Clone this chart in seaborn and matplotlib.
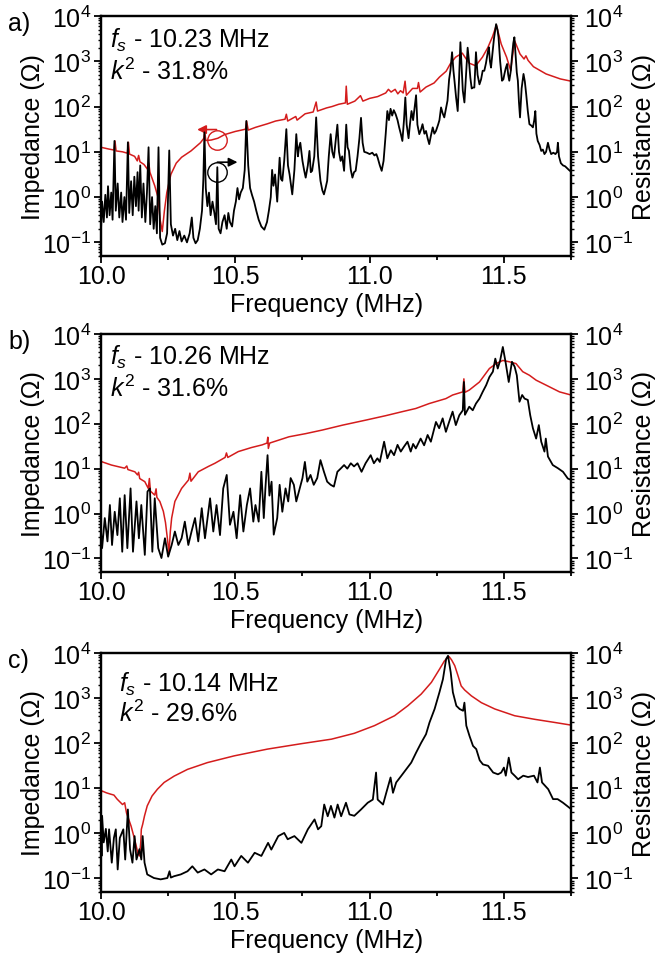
import numpy as np
import matplotlib
matplotlib.use("Agg")
import matplotlib.pyplot as plt
import seaborn as sns
from matplotlib.ticker import LogLocator, MultipleLocator, FormatStrFormatter, NullFormatter

# ---------------- data (magnitudes, as log10 of Ohm) ----------------
# Panel a
a_imp_f = [10.000,10.030,10.048,10.052,10.056,10.080,10.098,10.102,10.106,10.125,10.135,10.140,10.145,10.160,10.175,10.178,10.182,10.200,10.212,10.220,10.228,10.236,10.245,10.260,10.280,10.300,10.335,10.370,10.383,10.386,10.390,10.410,10.435,10.460,10.500,10.538,10.542,10.548,10.575,10.620,10.650,10.685,10.690,10.695,10.725,10.730,10.760,10.790,10.801,10.806,10.840,10.860,10.885,10.910,10.913,10.917,10.945,10.966,10.975,11.000,11.030,11.060,11.070,11.080,11.095,11.105,11.115,11.125,11.132,11.137,11.160,11.178,11.182,11.188,11.210,11.240,11.260,11.285,11.300,11.320,11.345,11.370,11.395,11.420,11.440,11.458,11.472,11.490,11.510,11.525,11.540,11.560,11.575,11.582,11.590,11.610,11.657,11.710,11.750]
a_imp_log = [1.10,1.06,1.04,1.24,1.02,1.00,0.97,1.21,0.95,0.90,0.80,0.92,0.78,0.72,0.60,0.75,0.55,0.25,0.00,-0.50,-0.76,-0.30,0.10,0.50,0.75,0.88,1.02,1.20,1.30,1.45,1.25,1.26,1.30,1.38,1.45,1.50,1.68,1.48,1.54,1.62,1.68,1.72,1.83,1.68,1.78,1.70,1.84,1.88,2.10,1.90,1.97,2.00,2.05,2.08,2.45,2.05,2.12,2.24,2.12,2.18,2.22,2.30,2.38,2.32,2.38,2.28,2.35,2.30,2.56,2.25,2.40,2.40,2.53,2.32,2.43,2.52,2.65,2.78,2.94,3.09,3.18,2.96,2.90,3.09,3.30,3.55,3.80,3.38,3.09,2.80,3.45,3.16,3.05,3.12,3.02,2.88,2.72,2.61,2.56]

a_res_f = [10.000,10.004,10.010,10.016,10.022,10.026,10.032,10.038,10.043,10.050,10.055,10.062,10.068,10.075,10.080,10.087,10.093,10.100,10.105,10.112,10.118,10.124,10.130,10.136,10.140,10.146,10.152,10.158,10.165,10.171,10.177,10.183,10.190,10.196,10.202,10.208,10.214,10.220,10.228,10.238,10.246,10.254,10.260,10.268,10.276,10.284,10.292,10.300,10.310,10.320,10.330,10.338,10.344,10.352,10.360,10.368,10.376,10.381,10.385,10.390,10.396,10.402,10.408,10.415,10.422,10.428,10.433,10.438,10.445,10.452,10.460,10.468,10.474,10.480,10.488,10.495,10.502,10.508,10.514,10.520,10.528,10.535,10.541,10.548,10.555,10.562,10.570,10.578,10.587,10.597,10.608,10.618,10.625,10.632,10.637,10.642,10.648,10.656,10.665,10.670,10.675,10.682,10.690,10.696,10.702,10.712,10.720,10.727,10.733,10.737,10.742,10.750,10.756,10.762,10.770,10.776,10.781,10.786,10.794,10.801,10.808,10.817,10.824,10.830,10.836,10.842,10.848,10.855,10.861,10.867,10.873,10.880,10.886,10.892,10.898,10.905,10.910,10.913,10.918,10.923,10.930,10.936,10.942,10.948,10.955,10.962,10.968,10.974,10.980,10.990,11.000,11.010,11.018,11.025,11.030,11.038,11.045,11.052,11.060,11.066,11.072,11.078,11.084,11.090,11.097,11.104,11.110,11.116,11.122,11.128,11.133,11.138,11.145,11.150,11.156,11.162,11.168,11.173,11.178,11.185,11.192,11.197,11.204,11.210,11.216,11.222,11.228,11.235,11.241,11.247,11.255,11.260,11.266,11.272,11.278,11.284,11.290,11.296,11.301,11.307,11.312,11.316,11.322,11.328,11.333,11.338,11.343,11.347,11.353,11.359,11.365,11.370,11.375,11.380,11.385,11.390,11.396,11.402,11.409,11.415,11.421,11.427,11.433,11.440,11.444,11.448,11.452,11.458,11.463,11.471,11.476,11.480,11.486,11.493,11.498,11.502,11.507,11.512,11.516,11.520,11.526,11.530,11.535,11.539,11.544,11.548,11.552,11.556,11.560,11.566,11.573,11.578,11.583,11.589,11.595,11.602,11.608,11.613,11.617,11.621,11.626,11.633,11.639,11.645,11.651,11.657,11.664,11.670,11.676,11.684,11.692,11.698,11.701,11.705,11.712,11.720,11.728,11.735,11.742,11.750]
a_res_log = [-0.70,-0.10,-0.55,0.05,-0.45,0.24,-0.40,0.10,-0.50,1.24,-0.30,0.30,-0.45,0.10,-0.55,0.00,-0.50,1.21,-0.35,0.35,-0.40,0.45,-0.20,0.55,-0.30,0.70,-0.45,0.30,-0.55,0.10,1.10,-0.60,0.00,-0.70,-0.20,-0.80,1.10,-0.90,-1.05,-1.02,-0.80,1.03,-0.60,-0.85,-0.70,-0.95,-0.75,-0.98,-0.85,-1.00,-0.80,-0.45,-0.90,-1.02,-0.95,-0.70,-0.30,0.40,1.43,0.20,-0.20,0.10,-0.40,-0.10,-0.35,-0.60,0.66,-0.70,-0.80,-0.55,-0.40,-0.70,-0.35,-0.55,-0.65,-0.30,-0.10,0.20,-0.05,0.10,0.20,0.60,1.68,0.70,0.20,0.05,-0.10,-0.30,-0.50,-0.65,-0.72,-0.55,-0.30,0.00,0.60,0.25,0.50,-0.10,0.87,0.40,0.36,0.80,1.50,0.70,0.50,0.06,0.60,1.39,0.90,1.09,1.20,0.80,0.60,0.43,0.70,1.02,0.55,0.58,0.90,1.76,0.90,0.36,0.15,0.06,0.20,0.36,0.90,1.39,1.00,0.87,1.20,1.60,1.00,0.80,0.90,0.58,1.20,1.60,1.10,1.02,0.60,0.43,0.55,0.58,0.90,1.30,1.75,1.20,1.00,0.98,0.95,0.98,0.92,0.95,0.87,0.70,0.58,0.80,1.40,1.90,1.70,1.95,1.80,1.92,1.83,1.70,1.54,1.40,1.24,1.70,2.20,1.60,1.30,1.60,1.90,1.70,2.00,2.25,1.60,1.39,1.50,1.61,1.40,1.46,1.30,1.17,1.35,1.54,1.40,1.46,1.60,1.70,1.98,1.85,1.76,1.95,2.13,2.60,2.80,3.20,2.80,2.57,2.20,1.90,2.60,3.42,2.80,2.35,2.09,2.70,3.30,3.00,2.64,2.40,2.42,2.42,3.20,2.70,2.49,2.60,2.79,2.79,2.95,3.20,3.31,3.00,2.86,3.20,3.50,3.82,3.70,3.53,3.00,2.57,2.60,2.72,2.85,2.94,2.70,2.57,2.80,3.10,3.40,3.53,3.10,2.75,2.57,2.10,1.76,2.40,2.72,2.55,2.27,1.90,1.61,1.58,1.54,1.70,1.90,1.40,1.24,1.15,1.02,1.05,0.95,1.00,1.20,1.05,0.95,0.98,0.95,1.00,1.20,0.90,0.75,0.70,0.68,0.64,0.60,0.56]

# Panel b
b_imp_f = [10.000,10.039,10.060,10.088,10.096,10.100,10.126,10.136,10.140,10.144,10.163,10.176,10.180,10.184,10.200,10.205,10.208,10.219,10.232,10.240,10.248,10.253,10.258,10.263,10.275,10.300,10.326,10.331,10.335,10.362,10.400,10.424,10.462,10.467,10.472,10.511,10.560,10.600,10.618,10.621,10.623,10.628,10.700,10.762,10.824,10.900,10.985,11.060,11.122,11.172,11.222,11.284,11.309,11.347,11.351,11.355,11.371,11.409,11.446,11.471,11.496,11.520,11.545,11.570,11.595,11.620,11.657,11.707,11.750]
b_imp_log = [1.16,1.08,1.05,1.01,1.06,0.98,0.93,0.86,0.92,0.78,0.71,0.56,0.78,0.50,0.41,0.55,0.36,0.27,0.05,-0.20,-0.60,-0.90,-0.40,-0.10,0.27,0.56,0.75,0.90,0.72,0.93,1.05,1.12,1.25,1.35,1.25,1.38,1.47,1.53,1.57,1.70,1.45,1.57,1.71,1.78,1.86,1.97,2.08,2.18,2.27,2.34,2.45,2.56,2.64,2.71,3.00,2.70,2.75,2.93,3.23,3.34,3.41,3.38,3.34,3.16,3.08,2.97,2.86,2.71,2.64]

b_res_f = [10.000,10.004,10.014,10.024,10.033,10.041,10.051,10.061,10.070,10.079,10.088,10.098,10.110,10.119,10.132,10.141,10.150,10.163,10.173,10.182,10.191,10.200,10.213,10.225,10.238,10.250,10.263,10.275,10.288,10.300,10.312,10.325,10.337,10.350,10.362,10.375,10.387,10.406,10.418,10.430,10.443,10.455,10.468,10.480,10.493,10.505,10.518,10.530,10.543,10.555,10.567,10.575,10.587,10.597,10.606,10.612,10.620,10.627,10.635,10.643,10.656,10.665,10.675,10.687,10.697,10.706,10.718,10.727,10.737,10.750,10.759,10.768,10.780,10.792,10.805,10.817,10.830,10.842,10.855,10.867,10.880,10.892,10.905,10.917,10.930,10.942,10.955,10.970,10.985,11.004,11.016,11.029,11.038,11.054,11.066,11.079,11.091,11.104,11.116,11.128,11.141,11.153,11.162,11.172,11.190,11.203,11.216,11.228,11.247,11.259,11.272,11.284,11.296,11.309,11.321,11.334,11.347,11.351,11.355,11.371,11.384,11.396,11.409,11.421,11.434,11.446,11.459,11.468,11.477,11.486,11.496,11.506,11.518,11.530,11.540,11.548,11.558,11.568,11.577,11.589,11.598,11.608,11.620,11.630,11.639,11.651,11.656,11.664,11.682,11.701,11.720,11.738,11.750]
b_res_log = [-0.40,-0.77,-0.10,-0.62,0.19,-0.70,0.04,-0.48,0.34,-0.85,0.41,-0.77,0.56,-0.85,0.27,-0.55,0.19,-0.92,0.49,0.56,-0.85,0.34,-0.77,-0.99,-0.55,-0.96,-0.70,-0.40,-0.70,-0.55,-0.18,-0.70,-0.40,-0.10,-0.62,0.12,-0.55,0.34,-0.40,0.19,-0.48,0.56,0.86,-0.25,0.04,-0.55,0.41,-0.40,0.19,0.56,-0.18,0.19,-0.18,0.93,-0.10,0.56,1.30,0.40,0.71,-0.47,-0.10,0.64,0.04,0.56,0.27,0.79,0.64,0.27,0.50,0.79,1.15,0.71,0.86,0.64,0.79,1.19,0.93,0.71,0.64,0.60,0.93,1.00,1.08,1.00,1.12,1.05,1.12,0.93,1.12,1.30,1.12,1.23,1.15,1.60,1.23,1.41,1.30,1.53,1.38,1.49,1.60,1.38,1.55,1.45,1.67,1.52,1.75,1.60,2.04,1.90,2.12,1.82,2.04,2.27,1.97,2.19,2.30,2.93,2.20,2.38,2.30,2.45,2.56,2.71,2.86,3.04,3.16,3.45,3.23,3.41,3.71,3.38,2.93,3.38,3.27,3.08,2.49,2.64,2.56,2.53,2.19,1.90,1.67,1.97,1.60,1.38,1.67,1.27,1.08,1.01,0.93,0.78,0.75]

# Panel c
c_imp_f = [10.000,10.004,10.020,10.036,10.048,10.060,10.080,10.088,10.095,10.112,10.125,10.137,10.143,10.148,10.150,10.155,10.162,10.172,10.190,10.210,10.235,10.272,10.322,10.396,10.496,10.620,10.746,10.858,10.943,11.018,11.093,11.142,11.192,11.230,11.260,11.279,11.296,11.305,11.317,11.329,11.341,11.354,11.379,11.416,11.466,11.540,11.615,11.690,11.752]
c_imp_log = [0.90,0.94,0.90,0.87,0.85,0.76,0.64,0.68,0.45,0.16,-0.13,-0.43,-0.50,-0.20,0.09,0.20,0.39,0.61,0.83,0.98,1.13,1.27,1.42,1.57,1.72,1.87,1.99,2.09,2.22,2.39,2.61,2.83,3.09,3.35,3.64,3.83,3.92,3.85,3.72,3.50,3.27,3.18,3.05,2.90,2.76,2.61,2.53,2.46,2.40]

c_res_f = [10.000,10.002,10.004,10.010,10.018,10.025,10.030,10.040,10.048,10.055,10.062,10.070,10.083,10.090,10.100,10.108,10.117,10.125,10.132,10.143,10.150,10.155,10.162,10.172,10.197,10.222,10.247,10.255,10.260,10.272,10.297,10.322,10.340,10.360,10.385,10.410,10.435,10.460,10.485,10.497,10.522,10.547,10.572,10.597,10.622,10.634,10.660,10.682,10.695,10.720,10.746,10.770,10.795,10.808,10.820,10.831,10.844,10.856,10.869,10.881,10.894,10.912,10.925,10.943,10.968,10.993,11.012,11.024,11.030,11.050,11.062,11.078,11.087,11.099,11.117,11.136,11.155,11.173,11.192,11.210,11.223,11.242,11.260,11.273,11.285,11.292,11.302,11.310,11.323,11.335,11.348,11.353,11.360,11.372,11.385,11.397,11.410,11.422,11.441,11.460,11.478,11.490,11.500,11.507,11.518,11.528,11.540,11.553,11.572,11.590,11.612,11.625,11.634,11.642,11.665,11.683,11.700,11.720,11.735,11.752]
c_res_log = [0.09,-0.50,0.39,-0.20,0.10,-0.40,0.09,-0.65,-0.10,0.09,-0.80,-0.10,0.09,-0.58,0.53,-0.35,-0.65,-0.06,-0.58,-0.35,-0.58,-0.06,-0.65,-0.91,-0.99,-1.02,-0.99,-0.84,-0.98,-0.95,-0.91,-0.84,-0.73,-0.87,-0.80,-0.91,-0.80,-0.84,-0.58,-0.73,-0.50,-0.65,-0.43,-0.50,-0.21,-0.36,-0.06,0.01,-0.13,-0.06,-0.21,0.09,0.31,0.09,0.16,0.64,0.38,0.61,0.35,0.64,0.38,0.68,0.42,0.39,0.53,0.68,0.75,1.35,0.75,0.64,0.90,1.24,0.90,1.13,1.27,1.42,1.57,1.79,2.01,2.20,2.46,2.76,3.13,3.42,3.87,3.94,3.57,3.13,2.83,2.76,2.72,2.90,2.39,2.16,1.94,1.87,1.62,1.53,1.50,1.35,1.31,1.35,1.46,1.28,1.68,1.35,1.28,1.20,1.28,1.25,1.28,1.13,1.46,1.13,0.98,0.76,0.76,0.68,0.61,0.53]

panel_labels = ["a)", "b)", "c)"]
fs_text = ["10.23 MHz", "10.26 MHz", "10.14 MHz"]
k2_text = ["31.8%", "31.6%", "29.6%"]
decades = [1e-1, 1e0, 1e1, 1e2, 1e3, 1e4]

# ---------------- style ----------------
sns.set_theme(style="ticks")
plt.rcParams["font.family"] = ["Liberation Sans", "DejaVu Sans"]
plt.rcParams.update({
    "mathtext.fontset": "custom",
    "mathtext.rm": "Liberation Sans",
    "mathtext.it": "Liberation Sans:italic",
    "mathtext.bf": "Liberation Sans:bold",
    "axes.unicode_minus": False,
    "axes.linewidth": 1.6,
    "axes.edgecolor": "black",
    "text.color": "black",
    "axes.labelcolor": "black",
    "xtick.color": "black",
    "ytick.color": "black",
})
RED = "#d41c1c"
FS = 18

fig = plt.figure(figsize=(6.56, 9.54), dpi=100)
boxes = [[0.154, 0.7306, 0.7165, 0.2516],
         [0.154, 0.3994, 0.7165, 0.2495],
         [0.154, 0.0639, 0.7165, 0.2505]]
panels = [(a_imp_f, a_imp_log, a_res_f, a_res_log),
          (b_imp_f, b_imp_log, b_res_f, b_res_log),
          (c_imp_f, c_imp_log, c_res_f, c_res_log)]
text_pos = [(0.019, 0.871, 0.7375), (0.019, 0.874, 0.739), (0.039, 0.841, 0.715)]

for i, (box, (fi, li, fr, lr)) in enumerate(zip(boxes, panels)):
    ax = fig.add_axes(box)
    ax.set_yscale("log")
    sns.lineplot(x=fi, y=10 ** np.asarray(li), ax=ax, color=RED, lw=1.1,
                 estimator=None, sort=False)
    ax2 = ax.twinx()
    ax2.set_yscale("log")
    sns.lineplot(x=fr, y=10 ** np.asarray(lr), ax=ax2, color="black", lw=1.3,
                 estimator=None, sort=False)
    for a in (ax, ax2):
        a.set_ylim(0.05, 1e4)
        a.set_yticks(decades)
        a.yaxis.set_minor_locator(LogLocator(base=10, subs=np.arange(2, 10), numticks=30))
        a.yaxis.set_minor_formatter(NullFormatter())
        a.tick_params(axis="y", which="both", direction="out", width=1.3, labelsize=FS, pad=2)
        a.tick_params(axis="y", which="major", length=5)
        a.tick_params(axis="y", which="minor", length=2.5, width=1.0)
        for s in a.spines.values():
            s.set_linewidth(1.6)
    ax.set_xlim(10.0, 11.75)
    ax.xaxis.set_major_locator(MultipleLocator(0.5))
    ax.xaxis.set_minor_locator(MultipleLocator(0.25))
    ax.xaxis.set_major_formatter(FormatStrFormatter("%.1f"))
    ax.tick_params(axis="x", which="both", direction="out", width=1.3, labelsize=FS, pad=1)
    ax.tick_params(axis="x", which="major", length=5)
    ax.tick_params(axis="x", which="minor", length=3)
    ax2.tick_params(axis="y", pad=4)

    ax.set_xlabel("Frequency (MHz)", fontsize=FS)
    ax.set_ylabel("Impedance (\u03A9)", fontsize=FS)
    ax2.set_ylabel("Resistance (\u03A9)", fontsize=FS)
    ax.xaxis.set_label_coords(0.48, -0.152)
    ax.yaxis.set_label_coords(-0.12, 0.5)
    ax2.yaxis.set_label_coords(1.13, 0.5)

    tx, y1, y2 = text_pos[i]
    ax.text(tx, y1, r"$f_s$ - " + fs_text[i], transform=ax.transAxes, fontsize=FS, va="baseline")
    ax.text(tx, y2, r"$k^2$ - " + k2_text[i], transform=ax.transAxes, fontsize=FS, va="baseline")
    ax.text(-0.198, 1.02, panel_labels[i], transform=ax.transAxes, fontsize=FS, va="top", ha="left")

    if i == 0:
        ax.plot([10.433], [18.6], marker="o", ms=14, mfc="none", mec=RED, mew=1.0, ls="none")
        ax.annotate("", xy=(10.358, 31.0), xytext=(10.43, 31.0),
                    arrowprops=dict(arrowstyle="-|>", color=RED, lw=1.2, mutation_scale=13,
                                    shrinkA=0, shrinkB=0))
        ax2.plot([10.433], [3.5], marker="o", ms=14, mfc="none", mec="black", mew=1.0, ls="none")
        ax2.annotate("", xy=(10.508, 5.9), xytext=(10.433, 5.9),
                     arrowprops=dict(arrowstyle="-|>", color="black", lw=1.2, mutation_scale=13,
                                     shrinkA=0, shrinkB=0))

fig.savefig("out.png", dpi=100)
